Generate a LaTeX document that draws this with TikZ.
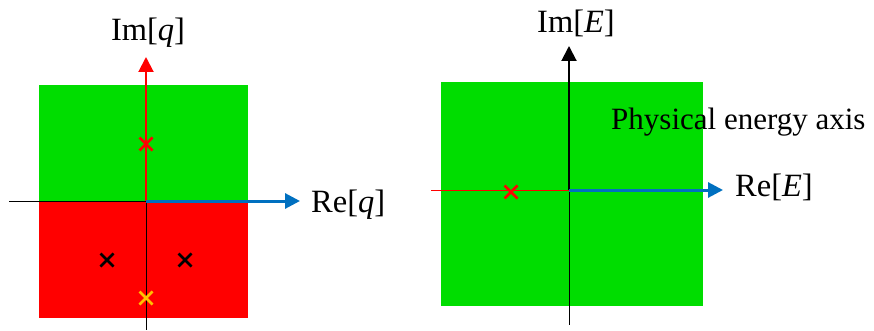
\documentclass[tikz,border=0pt]{standalone}
\usepackage{fontspec}
\setmainfont{Liberation Serif}
\usetikzlibrary{arrows.meta}
\definecolor{pgreen}{RGB}{0,221,0}
\definecolor{pblue}{RGB}{0,112,192}
\definecolor{pyellow}{RGB}{255,192,0}
\begin{document}
\begin{tikzpicture}[x=1pt,y=-1pt,
  tip/.style={-{Triangle[length=15pt,width=15pt]}},
  thinax/.style={line width=0.8pt},
  lbl/.style={font=\fontsize{32.5}{32.5}\selectfont, inner sep=0pt},
  phys/.style={font=\fontsize{31}{31}\selectfont, inner sep=0pt},
  xm/.pic={\draw[line width=2.8pt] (-6.5,-6.5) -- (6.5,6.5) (-6.5,6.5) -- (6.5,-6.5);}]
\useasboundingbox (0,0) rectangle (874,331);
% left panel
\fill[pgreen] (39,85) rectangle (248,201);
\fill[red] (39,201) rectangle (248,318);
\coordinate (O1) at (146,201);
\coordinate (L1) at (9,201);
\coordinate (B1) at (146,330);
\coordinate (T1) at (146,57);
\coordinate (R1) at (300,201);
\draw[thinax] (L1) -- (O1);
\draw[thinax] (O1) -- (B1);
\draw[red, line width=2pt, tip] (O1) -- (T1);
\draw[pblue, line width=3pt, tip] (O1) -- (R1);
\pic[red] at (146,144) {xm};
\pic[black] at (107,260) {xm};
\pic[black] at (185,260) {xm};
\pic[pyellow] at (146,298) {xm};
\node[lbl, anchor=base] (imq) at (148,41) {Im[\textit{q}]};
\node[lbl, anchor=base west] (req) at (311,212) {Re[\textit{q}]};
% right panel
\fill[pgreen] (441,82) rectangle (703,306);
\coordinate (O2) at (569,190);
\coordinate (L2) at (431,190);
\coordinate (B2) at (569,325);
\coordinate (T2) at (569,46);
\coordinate (R2) at (723,190);
\draw[red, thinax] (L2) -- (O2);
\draw[thinax] (O2) -- (B2);
\draw[line width=2pt, tip] (O2) -- (T2);
\draw[pblue, line width=3pt, tip] (O2) -- (R2);
\pic[red] at (511,192) {xm};
\node[lbl, anchor=base] (ime) at (576,33) {Im[\textit{E}]};
\node[lbl, anchor=base west] (ree) at (735,196) {Re[\textit{E}]};
\node[phys, anchor=base west] (physlbl) at (611,130) {Physical energy axis};
\end{tikzpicture}
\end{document}
